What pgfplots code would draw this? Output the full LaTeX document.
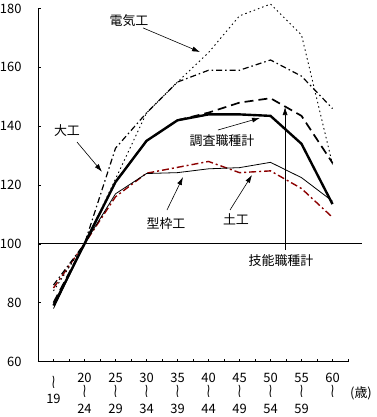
\documentclass[border=0pt]{standalone}
\usepackage{fontspec}
\setmainfont{Noto Sans CJK JP}
\newfontfamily\dejavu{DejaVu Sans}
\usepackage{graphicx}
\usepackage{pgfplots}
\pgfplotsset{compat=1.18}
\usetikzlibrary{arrows.meta}
\definecolor{doboku}{rgb}{0.55,0,0}
\newcommand{\wave}{\scalebox{0.9}[1.5]{\dejavu ≀}}

\begin{document}
\begin{tikzpicture}[x=1bp,y=1bp]
\begin{axis}[
  at={(0,0)}, anchor=south west,
  scale only axis, width=310bp, height=353bp,
  xmin=0.5, xmax=10.5, ymin=60, ymax=180,
  axis x line=bottom, axis y line=left,
  axis line style={-, line width=0.8bp},
  xtick={1,...,10},
  xticklabels={{\mbox{}\\\wave\\19},{20\\\wave\\24},{25\\\wave\\29},{30\\\wave\\34},{35\\\wave\\39},{40\\\wave\\44},{45\\\wave\\49},{50\\\wave\\54},{55\\\wave\\59},{60\\\wave}},
  minor xtick={0.5,1.5,...,10.5},
  ytick={60,80,...,180},
  tick align=inside,
  major tick length=3bp, minor tick length=3bp,
  tick style={black, line width=0.6bp},
  clip=false,
  font=\fontsize{13}{15.5}\selectfont,
  /pgf/number format/assume math mode=true,
  yticklabel style={xshift=-13bp},
  xticklabel style={align=center, anchor=north, yshift=-8bp},
]
% 土工
\addplot[doboku, line width=1.4bp, dash pattern=on 7bp off 3bp on 2bp off 3bp] coordinates {(1,85)(2,100)(3,116)(4,124)(5,126)(6,128)(7,124.2)(8,124.8)(9,118.8)(10,109)};
% 型枠工
\addplot[black, line width=0.8bp] coordinates {(1,78)(2,100)(3,117)(4,123.9)(5,124.2)(6,125.5)(7,125.9)(8,127.7)(9,122.5)(10,114.5)};
% 電気工
\addplot[black, line width=0.9bp, dash pattern=on 1.5bp off 3bp] coordinates {(1,84)(2,100)(3,122)(4,144.5)(5,155)(6,165)(7,177.5)(8,181.5)(9,171)(10,127)};
% 大工
\addplot[black, line width=1.2bp, dash pattern=on 6bp off 3bp on 1.5bp off 3bp] coordinates {(1,86)(2,100)(3,132.5)(4,144.5)(5,155)(6,159)(7,159)(8,162.5)(9,157)(10,146)};
% 技能職種計
\addplot[black, line width=1.7bp, dash pattern=on 9bp off 5bp] coordinates {(1,80)(2,100)(3,121)(4,135)(5,142)(6,144.6)(7,148)(8,149.5)(9,143.5)(10,127.5)};
% 調査職種計
\addplot[black, line width=2.4bp] coordinates {(1,79)(2,100)(3,121)(4,135)(5,142)(6,144)(7,144)(8,143.5)(9,134)(10,113.5)};

\draw[line width=0.8bp] (axis cs:0.5,100) -- (axis cs:10.95,100);

\tikzset{ann/.style={-{Latex[length=8bp,width=5bp]}, line width=0.6bp}}
\node at (axis cs:3.435,175.75) {電気工};
\draw[ann] (axis cs:3.887,173.4) -- (axis cs:5.726,165.2);
\node at (axis cs:1.435,138.4) {大工};
\draw[ann] (axis cs:1.758,134.6) -- (axis cs:2.565,124.5);
\node at (axis cs:6.435,135.0) {調査職種計};
\draw[ann] (axis cs:6.306,138.7) -- (axis cs:7.661,142.8);
\node at (axis cs:4.629,106.75) {型枠工};
\draw[ann] (axis cs:4.661,111.5) -- (axis cs:5.177,122.7);
\node at (axis cs:6.887,108.45) {土工};
\draw[ann] (axis cs:6.694,111.5) -- (axis cs:7.403,123.4);
\node at (axis cs:8.339,94.2) {技能職種計};
\draw[ann] (axis cs:8.47,97.9) -- (axis cs:8.47,146.5);
\node at (axis cs:10.919,49.3) {(歳)};
\end{axis}
\pgfresetboundingbox
\path[use as bounding box] (-38bp,-55.5bp) rectangle (339bp,361.5bp);
\end{tikzpicture}
\end{document}
